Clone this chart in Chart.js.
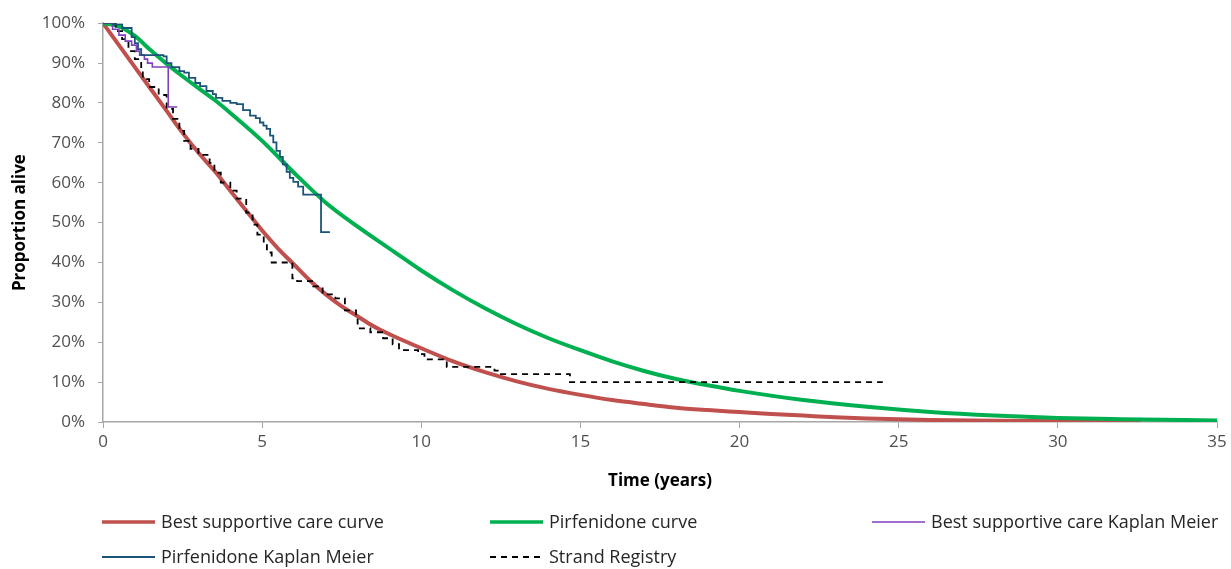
<!DOCTYPE html>
<html>
<head>
<meta charset="utf-8">
<script src="https://cdn.jsdelivr.net/npm/chart.js@4.4.1/dist/chart.umd.min.js"></script>
<style>
  html, body { margin: 0; padding: 0; background: #fff; }
  #wrap { width: 1231px; height: 569px; }
</style>
</head>
<body>
<div id="wrap"><canvas id="survival" width="1231" height="569"></canvas></div>
<script>
// tempo em anos / proporção viva (%)
var bscCurveT = [0, 0.5, 1, 1.5, 2, 2.5, 3, 3.5, 4, 4.5, 5, 5.5, 6, 6.5, 7, 7.5, 8, 8.5, 9, 10, 11, 12, 13, 14, 15, 16, 17, 18, 19, 20, 21, 22, 23, 24, 25, 26, 28, 30, 32.6];
var bscCurveP = [100, 94.5, 89, 83.5, 78, 72.5, 67.5, 63, 58, 53, 48, 43.5, 39.5, 35.5, 32, 29, 26.5, 24, 22, 18.5, 15.2, 12.5, 10.2, 8.3, 6.8, 5.5, 4.5, 3.6, 3.0, 2.5, 2.0, 1.6, 1.2, 0.9, 0.7, 0.5, 0.3, 0.2, 0.1];

var pirCurveT = [0, 0.5, 1, 1.5, 2, 2.5, 3, 3.5, 4, 5, 6, 7, 8, 9, 10, 11, 12, 13, 14, 15, 16, 17, 18, 19, 20, 22, 24, 26, 28, 30, 32, 35];
var pirCurveP = [100, 99.2, 96.8, 93.2, 89.8, 86.7, 83.7, 80.8, 77.5, 70.5, 62.5, 55, 49, 43.5, 38, 33, 28.5, 24.5, 21, 18, 15.2, 12.8, 10.8, 9.2, 7.8, 5.5, 3.8, 2.5, 1.6, 1.0, 0.7, 0.4];

var bscKmT = [0, 0.3, 0.5, 0.7, 0.9, 1.05, 1.15, 1.3, 1.4, 1.55, 2.05, 2.33];
var bscKmP = [100, 98.5, 97, 95.5, 94.5, 93, 92, 91, 90, 89, 79, 79];

var pirKmT = [0, 0.3, 0.6, 0.9, 1.0, 1.1, 1.2, 1.9, 2.0, 2.15, 2.4, 2.55, 2.7, 2.9, 3.05, 3.25, 3.45, 3.55, 3.75, 4.0, 4.2, 4.4, 4.62, 4.8, 4.93, 5.04, 5.14, 5.25, 5.35, 5.45, 5.56, 5.65, 5.77, 5.87, 5.98, 6.13, 6.29, 6.85, 7.13];
var pirKmP = [100, 99.7, 98.8, 96.5, 95, 93.5, 92, 91.7, 90, 89, 88, 87.6, 86.3, 85, 84.2, 83, 82.2, 81.3, 80.5, 80, 79.7, 78.2, 76.8, 76.2, 75.1, 74.3, 73.5, 71.8, 70.1, 68, 66.5, 64.6, 62.7, 61.2, 60.2, 59, 57, 47.6, 47.6];

var strandT = [0, 0.4, 0.6, 0.8, 1.0, 1.2, 1.25, 1.45, 1.75, 2.0, 2.2, 2.4, 2.55, 2.75, 3.0, 3.35, 3.5, 3.7, 4.0, 4.2, 4.5, 4.7, 4.85, 5.05, 5.15, 5.3, 5.95, 6.1, 6.6, 6.9, 7.3, 7.6, 7.95, 8.0, 8.4, 8.8, 9.1, 9.3, 9.9, 10.1, 10.8, 12.3, 12.5, 14.67, 24.5];
var strandP = [100, 98, 96, 93, 91, 88, 86, 84, 82, 78.5, 76, 73, 70.5, 68.5, 67, 65, 62.5, 60, 58, 56, 52.5, 49.5, 47, 45, 42.5, 40, 36, 35.3, 34, 32, 31, 28, 26.5, 23.5, 22.5, 21, 19.5, 18, 17, 15.7, 13.8, 12.9, 12, 10, 10];

var xTicks = [0, 5, 10, 15, 20, 25, 30, 35];
var yTicks = [0, 10, 20, 30, 40, 50, 60, 70, 80, 90, 100];

function pts(t, p) {
    return t.map(function (v, i) { return { x: v, y: p[i] }; });
}

var FONT = '"Open Sans", "Liberation Sans", sans-serif';
var AXIS_GREY = '#A6A6A6';

// legenda desenhada em duas linhas, três colunas (como no original)
var legendaGrade = {
    id: 'legendaGrade',
    afterDraw: function (chart) {
        var ctx = chart.ctx;
        var cols = [102, 490, 872];
        var rows = [522, 557];
        ctx.save();
        ctx.font = '18px ' + FONT;
        ctx.textBaseline = 'middle';
        ctx.textAlign = 'left';
        chart.data.datasets.forEach(function (ds, i) {
            var x = cols[i % 3];
            var y = rows[Math.floor(i / 3)];
            ctx.beginPath();
            ctx.strokeStyle = ds.borderColor;
            ctx.lineWidth = ds.legendWidth;
            ctx.setLineDash(ds.borderDash || []);
            ctx.moveTo(x, y);
            ctx.lineTo(x + 53, y);
            ctx.stroke();
            ctx.setLineDash([]);
            ctx.fillStyle = '#262626';
            ctx.fillText(ds.label, x + 59, y + 1);
        });
        ctx.restore();
    }
};

var survivalCtx = document.getElementById('survival').getContext('2d');

var survivalChart = new Chart(survivalCtx, {
    type: 'line',
    data: {
        datasets: [{
            label: 'Best supportive care curve',
            data: pts(bscCurveT, bscCurveP),
            borderColor: '#C0504D',
            borderWidth: 4,
            legendWidth: 3.5,
            cubicInterpolationMode: 'monotone',
            order: 5
        }, {
            label: 'Pirfenidone curve',
            data: pts(pirCurveT, pirCurveP),
            borderColor: '#00B050',
            borderWidth: 4,
            legendWidth: 3.5,
            cubicInterpolationMode: 'monotone',
            order: 4
        }, {
            label: 'Best supportive care Kaplan Meier',
            data: pts(bscKmT, bscKmP),
            borderColor: '#7F3FBF',
            borderWidth: 1.6,
            legendWidth: 1.6,
            stepped: 'before',
            order: 2
        }, {
            label: 'Pirfenidone Kaplan Meier',
            data: pts(pirKmT, pirKmP),
            borderColor: '#1B5479',
            borderWidth: 1.8,
            legendWidth: 1.8,
            stepped: 'before',
            order: 1
        }, {
            label: 'Strand Registry',
            data: pts(strandT, strandP),
            borderColor: '#000000',
            borderWidth: 1.8,
            legendWidth: 1.8,
            borderDash: [6, 5],
            stepped: 'before',
            order: 3
        }]
    },
    options: {
        responsive: false,
        animation: false,
        layout: { padding: { top: 20, right: 14, left: 0, bottom: 75 } },
        elements: { point: { radius: 0 } },
        scales: {
            x: {
                type: 'linear',
                min: 0,
                max: 35,
                afterBuildTicks: function (s) { s.ticks = xTicks.map(function (v) { return { value: v }; }); },
                afterFit: function (s) { s.height = 72; },
                border: { color: AXIS_GREY, width: 1.5 },
                grid: { display: true, drawOnChartArea: false, drawTicks: true, tickLength: 6, color: AXIS_GREY },
                ticks: { color: '#505050', font: { family: FONT, size: 17 }, padding: 4, maxRotation: 0 },
                title: { display: true, text: 'Time (years)', color: '#000', font: { family: FONT, size: 17, weight: 'bold' }, padding: { top: 0, bottom: 3 } }
            },
            y: {
                type: 'linear',
                min: 0,
                max: 100,
                afterBuildTicks: function (s) { s.ticks = yTicks.map(function (v) { return { value: v }; }); },
                afterFit: function (s) { s.width = 103; },
                border: { color: AXIS_GREY, width: 1.5 },
                grid: { display: true, drawOnChartArea: false, drawTicks: true, tickLength: 5, color: AXIS_GREY },
                ticks: { color: '#505050', font: { family: FONT, size: 17 }, padding: 13, callback: function (v) { return v + '%'; } },
                title: { display: true, text: 'Proportion alive', color: '#000', font: { family: FONT, size: 17, weight: 'bold' }, padding: { top: 10, bottom: 0 } }
            }
        },
        plugins: {
            legend: { display: false },
            tooltip: { enabled: false }
        }
    },
    plugins: [legendaGrade]
});
</script>
</body>
</html>
